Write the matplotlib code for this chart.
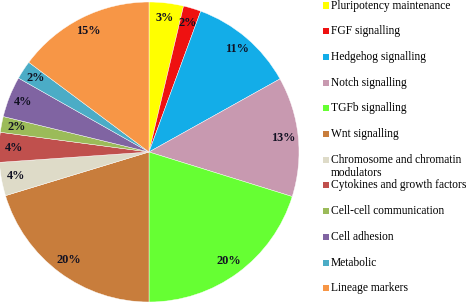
import matplotlib.pyplot as plt
from matplotlib.patches import Rectangle

categories = ['Pluripotency maintenance', 'FGF signalling', 'Hedgehog signalling',
              'Notch signalling', 'TGFb signalling', 'Wnt signalling',
              'Chromosome and chromatin\nmodulators', 'Cytokines and growth factors',
              'Cell-cell communication', 'Cell adhesion', 'Metabolic', 'Lineage markers']
values = [3.7, 1.9, 11.3, 12.9, 20.2, 20.3, 3.6, 3.2, 1.7, 4.4, 2.0, 14.8]
pct_labels = ['3%', '2%', '11%', '13%', '20%', '20%', '4%', '4%', '2%', '4%', '2%', '15%']
colors = ['#FFFF00', '#EE1111', '#13ADE8', '#C899B0', '#66FF33', '#C87D3C',
          '#DEDBC8', '#C0504D', '#9BBB59', '#8064A2', '#4BACC6', '#F79646']

W, H = 472, 303
fig = plt.figure(figsize=(W / 100, H / 100), dpi=100)
ax = fig.add_axes([-1 / W, 1 / H, 300 / W, 300 / H])

wedges, texts = ax.pie(values, labels=pct_labels, colors=colors, startangle=90,
                       counterclock=False, labeldistance=0.9,
                       wedgeprops=dict(edgecolor='white', linewidth=0.3),
                       textprops=dict(family='Liberation Serif', fontweight='bold',
                                      fontsize=8.8, color='#111122'))
for t in texts:
    t.set_ha('center')
    t.set_va('center')
ax.set_xlim(-1, 1)
ax.set_ylim(-1, 1)
ax.set_aspect('equal')
ax.axis('off')

# legend drawn by hand (one slot per entry, wrapped text hangs below)
top, step = 5.5, 25.7
for i, (name, c) in enumerate(zip(categories, colors)):
    yc = top + i * step
    fig.patches.append(Rectangle((323 / W, 1 - (yc + 3) / H), 6 / W, 6 / H,
                                 transform=fig.transFigure, facecolor=c,
                                 edgecolor='none'))
    fig.text(331 / W, 1 - (yc - 6) / H, name, va='top', ha='left',
             family='Liberation Serif', fontsize=8.3, linespacing=1.15)

fig.savefig('out.png', dpi=100)
